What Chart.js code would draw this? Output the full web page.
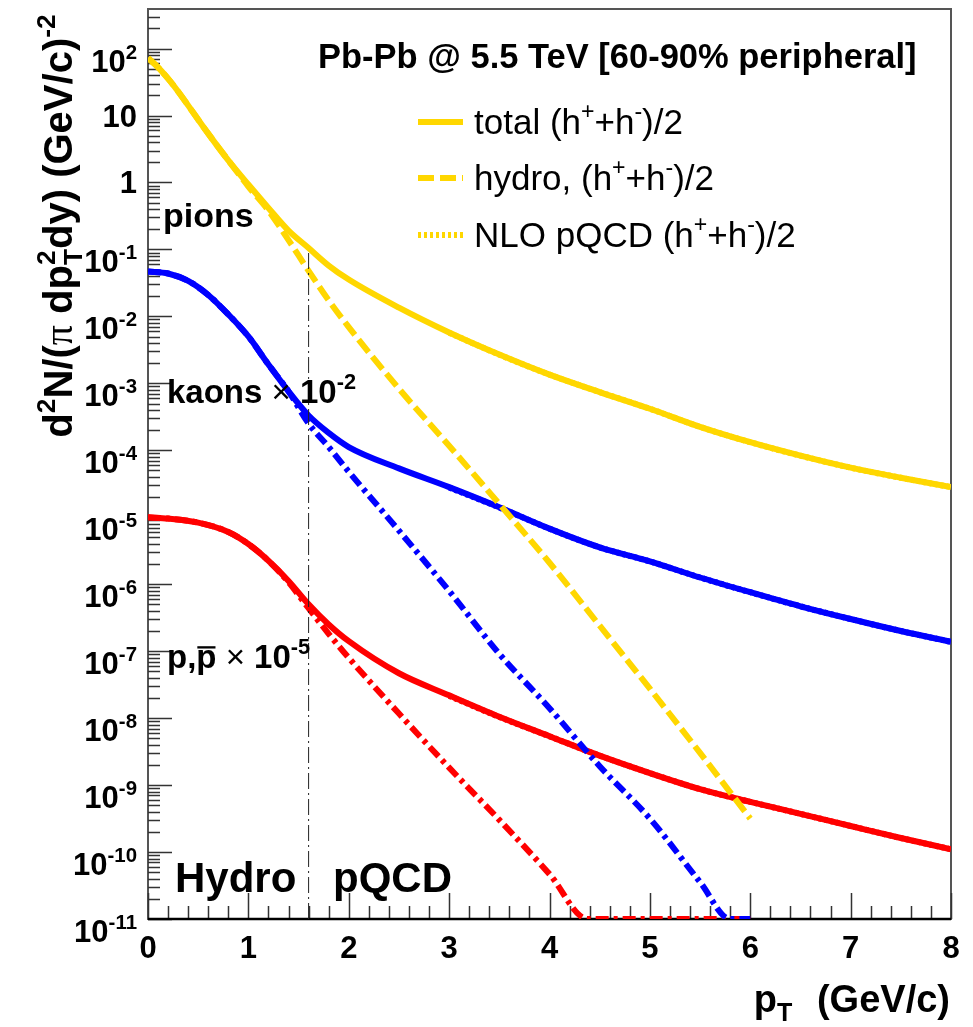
<!DOCTYPE html>
<html>
<head>
<meta charset="utf-8">
<script src="https://cdn.jsdelivr.net/npm/chart.js@4.4.1/dist/chart.umd.min.js"></script>
<style>
  html, body { margin: 0; padding: 0; background: #fff; }
  canvas { display: block; }
</style>
</head>
<body>
<canvas id="spectra" width="973" height="1027"></canvas>
<script>
// pT grids (GeV/c) and invariant yields for each species
const ptPion = [0, 0.1, 0.2, 0.3, 0.45, 0.6, 0.8, 1.0, 1.2, 1.4, 1.6, 1.8, 2.0, 2.5, 3.0, 3.5, 4.0, 4.5, 5.0, 5.5, 6.0, 6.5, 7.0, 7.5, 8.0];
const pionTotal = [72.4, 52.5, 35.5, 22.9, 11.1, 5.37, 2.14, 0.933, 0.417, 0.191, 0.105, 0.0575, 0.0355, 0.0135, 5.75e-3, 2.69e-3, 1.35e-3, 7.41e-4, 4.17e-4, 2.24e-4, 1.32e-4, 8.32e-5, 5.5e-5, 3.89e-5, 2.82e-5];
const ptPionHydro = [0, 0.1, 0.2, 0.3, 0.45, 0.6, 0.8, 1.0, 1.2, 1.4, 1.6, 1.8, 2.0, 2.5, 3.0, 3.5, 4.0, 4.5, 5.0, 5.5, 6.0];
const pionHydro = [72.4, 52.5, 35.5, 22.9, 11.1, 5.37, 2.14, 0.871, 0.380, 0.138, 0.0479, 0.0174, 6.92e-3, 8.32e-4, 1.17e-4, 1.58e-5, 2.09e-6, 2.4e-7, 2.75e-8, 3.02e-9, 3.16e-10];
const ptPionPqcd = [3.0, 3.5, 4.0, 4.5, 5.0, 5.5, 6.0, 6.5, 7.0, 7.5, 8.0];
const pionPqcd = [5.7e-3, 2.68e-3, 1.35e-3, 7.41e-4, 4.17e-4, 2.24e-4, 1.32e-4, 8.32e-5, 5.5e-5, 3.89e-5, 2.82e-5];

const ptKaon = [0, 0.2, 0.4, 0.6, 0.8, 1.0, 1.2, 1.4, 1.6, 1.8, 2.0, 2.5, 3.0, 3.5, 4.0, 4.5, 5.0, 5.5, 6.0, 6.5, 7.0, 7.5, 8.0];
const kaonTotal = [0.0468, 0.0437, 0.0339, 0.0209, 0.0107, 5.01e-3, 1.91e-3, 7.59e-4, 3.31e-4, 1.82e-4, 1.12e-4, 5.37e-5, 2.82e-5, 1.41e-5, 6.76e-6, 3.55e-6, 2.19e-6, 1.26e-6, 7.59e-7, 4.68e-7, 3.02e-7, 2.0e-7, 1.38e-7];
const ptKaonHydro = [0, 0.2, 0.4, 0.6, 0.8, 1.0, 1.2, 1.4, 1.6, 1.8, 2.0, 2.5, 3.0, 3.5, 4.0, 4.5, 5.0, 5.5, 5.8, 6.0];
const kaonHydro = [0.0468, 0.0437, 0.0339, 0.0209, 0.0107, 5.01e-3, 1.91e-3, 7.59e-4, 2.51e-4, 1.12e-4, 4.79e-5, 6.31e-6, 7.94e-7, 9.12e-8, 1.41e-8, 1.91e-9, 3.16e-10, 3.55e-11, 1e-11, 1e-11];
const ptKaonPqcd = [3.0, 3.5, 4.0, 4.5, 5.0, 5.5, 6.0, 6.5, 7.0, 7.5, 8.0];
const kaonPqcd = [2.78e-5, 1.40e-5, 6.75e-6, 3.55e-6, 2.19e-6, 1.26e-6, 7.59e-7, 4.68e-7, 3.02e-7, 2.0e-7, 1.38e-7];

const ptProton = [0, 0.2, 0.5, 0.8, 1.0, 1.2, 1.4, 1.6, 1.8, 2.0, 2.5, 3.0, 3.5, 4.0, 4.5, 5.0, 5.5, 6.0, 6.5, 7.0, 7.5, 8.0];
const protonTotal = [1.0e-5, 9.55e-6, 8.32e-6, 6.03e-6, 3.98e-6, 2.24e-6, 1.12e-6, 5.01e-7, 2.51e-7, 1.41e-7, 4.68e-8, 2.19e-8, 1.05e-8, 5.37e-9, 2.75e-9, 1.51e-9, 8.71e-10, 5.62e-10, 3.72e-10, 2.45e-10, 1.62e-10, 1.1e-10];
const ptProtonHydro = [0, 0.2, 0.5, 0.8, 1.0, 1.2, 1.4, 1.6, 1.8, 2.0, 2.5, 3.0, 3.5, 4.0, 4.38, 4.5, 5.0, 5.5, 6.0];
const protonHydro = [1.0e-5, 9.55e-6, 8.32e-6, 6.03e-6, 3.98e-6, 2.24e-6, 1.07e-6, 4.37e-7, 1.82e-7, 7.94e-8, 1.17e-8, 1.82e-9, 3.02e-10, 4.68e-11, 1e-11, 1e-11, 1e-11, 1e-11, 1e-11];
const ptProtonPqcd = [3.0, 3.5, 4.0, 4.5, 5.0, 5.5, 6.0, 6.5, 7.0, 7.5, 8.0];
const protonPqcd = [2.15e-8, 1.04e-8, 5.35e-9, 2.75e-9, 1.51e-9, 8.71e-10, 5.62e-10, 3.72e-10, 2.45e-10, 1.62e-10, 1.1e-10];

// hydro / pQCD boundary
const boundaryPt = 1.6;
const boundaryRange = [1e-11, 0.09];

const xRange = [0, 8];
const yRange = [1e-11, 390];
const xTickLabels = ['0', '1', '2', '3', '4', '5', '6', '7', '8'];
const yTickExponents = [2, 1, 0, -1, -2, -3, -4, -5, -6, -7, -8, -9, -10, -11];

const YELLOW = '#ffd700';
const BLUE = '#0000ff';
const RED = '#ff0000';
const DASH = [16, 6];
const DASHDOT = [13, 5, 4, 5];
const DOT = [3, 3];

const SANS = '"Liberation Sans", Arial, Helvetica, sans-serif';

function pts(xs, ys) {
    return xs.map((x, i) => ({ x: x, y: ys[i] }));
}

function curve(label, xs, ys, color, dash) {
    return {
        label: label,
        data: pts(xs, ys),
        borderColor: color,
        borderWidth: 6,
        borderDash: dash,
        pointRadius: 0,
        cubicInterpolationMode: 'monotone',
        fill: false,
        clip: 0
    };
}

// text with superscripts / subscripts, y is the baseline
function drawRich(ctx, parts, x, y, o) {
    const size = o.size;
    const small = size * (o.supScale || 0.66);
    const fontOf = (p, s) => (p.w || o.weight || 'bold') + ' ' + s + 'px ' + (p.fam || SANS);
    let w = 0;
    const runs = parts.map(part => {
        const p = typeof part === 'string' ? { t: part } : part;
        const s = (p.sup || p.sub) ? small : size;
        ctx.font = fontOf(p, s);
        let adv = ctx.measureText(p.t).width;
        if (p.over) {
            ctx.font = fontOf(p, small);
            adv = Math.max(adv, ctx.measureText(p.over).width);
        }
        const r = { p: p, s: s, x: w };
        w += adv + (p.pad || 0);
        return r;
    });
    ctx.save();
    ctx.translate(x, y);
    if (o.rot) ctx.rotate(o.rot);
    ctx.scale(o.sx || 1, o.sy || 1);
    const x0 = o.align === 'right' ? -w : (o.align === 'center' ? -w / 2 : 0);
    ctx.fillStyle = o.color || '#000';
    ctx.textAlign = 'left';
    ctx.textBaseline = 'alphabetic';
    runs.forEach(r => {
        const p = r.p;
        let dy = 0;
        if (p.sup) dy = -size * 0.42;
        if (p.sub) dy = size * 0.24;
        ctx.font = fontOf(p, r.s);
        ctx.fillText(p.t, x0 + r.x, dy);
        if (p.over) {
            ctx.font = fontOf(p, small);
            ctx.fillText(p.over, x0 + r.x, -size * 0.42);
        }
        if (p.bar) {
            const bw = ctx.measureText(p.t).width;
            ctx.fillRect(x0 + r.x + 1, -size * 0.66, bw - 2, Math.max(2, size * 0.07));
        }
    });
    ctx.restore();
    return w;
}

const frame = {
    id: 'frame',
    beforeDatasetsDraw(chart) {
        const { ctx, chartArea: a } = chart;
        const xs = chart.scales.x, ys = chart.scales.y;
        ctx.save();
        ctx.strokeStyle = '#555';
        ctx.lineWidth = 2;
        ctx.strokeRect(a.left, a.top, a.right - a.left, a.bottom - a.top);

        ctx.strokeStyle = '#333';
        ctx.lineWidth = 1.5;
        ctx.beginPath();
        // x ticks every 0.2, long ones on integers
        for (let i = 0; i <= 40; i++) {
            const px = Math.round(xs.getPixelForValue(i * 0.2)) + 0.5;
            const len = i % 5 === 0 ? 26 : 13;
            ctx.moveTo(px, a.bottom);
            ctx.lineTo(px, a.bottom - len);
        }
        // y ticks, decades long, 2..9 short
        for (let e = -11; e <= 2; e++) {
            for (let m = 1; m <= 9; m++) {
                const v = m * Math.pow(10, e);
                if (v < yRange[0] || v > yRange[1]) continue;
                const py = Math.round(ys.getPixelForValue(v)) + 0.5;
                ctx.moveTo(a.left, py);
                ctx.lineTo(a.left + (m === 1 ? 24 : 12), py);
            }
        }
        ctx.stroke();

        ctx.strokeStyle = '#000';
        ctx.lineWidth = 2.5;
        ctx.beginPath();
        ctx.moveTo(a.left, a.bottom);
        ctx.lineTo(a.right, a.bottom);
        ctx.stroke();
        ctx.restore();
    },
    afterDraw(chart) {
        const { ctx } = chart;
        const xs = chart.scales.x, ys = chart.scales.y;
        ctx.save();

        // tick labels
        const tsz = 31;
        xTickLabels.forEach(t => {
            drawRich(ctx, [t], xs.getPixelForValue(+t), 958, { size: tsz, align: 'center' });
        });
        yTickExponents.forEach(e => {
            const py = ys.getPixelForValue(Math.pow(10, e));
            if (e === 1 || e === 0) {
                drawRich(ctx, [e === 1 ? '10' : '1'], 137, py + 11, { size: tsz, align: 'right' });
            } else {
                drawRich(ctx, ['10', { t: String(e), sup: true }], 137, py + 23, { size: tsz, align: 'right' });
            }
        });

        // axis titles
        drawRich(ctx, ['p', { t: 'T', sub: true, pad: 14 }, ' (GeV/c)'], 950, 1012, { size: 38, align: 'right' });
        drawRich(ctx, ['d', { t: '2', sup: true }, 'N/(', { t: '\u03c0', w: 'normal', fam: '"Liberation Serif", serif' }, ' dp',
            { t: 'T', sub: true, over: '2' }, 'dy) (GeV/c)', { t: '-2', sup: true }],
            72, 226, { size: 40, align: 'center', rot: -Math.PI / 2 });

        // header and legend
        drawRich(ctx, ['Pb-Pb @ 5.5 TeV [60-90% peripheral]'], 318, 68, { size: 34.5 });
        const entries = [
            { ds: 0, y: 122, parts: ['total (h', { t: '+', sup: true }, '+h', { t: '-', sup: true }, ')/2'] },
            { ds: 1, y: 178, parts: ['hydro, (h', { t: '+', sup: true }, '+h', { t: '-', sup: true }, ')/2'] },
            { ds: 2, y: 235, parts: ['NLO pQCD (h', { t: '+', sup: true }, '+h', { t: '-', sup: true }, ')/2'] }
        ];
        entries.forEach(en => {
            const ds = chart.data.datasets[en.ds];
            ctx.save();
            ctx.strokeStyle = ds.borderColor;
            ctx.lineWidth = 6;
            ctx.setLineDash(ds.borderDash || []);
            ctx.beginPath();
            ctx.moveTo(418, en.y);
            ctx.lineTo(463, en.y);
            ctx.stroke();
            ctx.restore();
            drawRich(ctx, en.parts, 474, en.y + 12, { size: 35, weight: 'normal' });
        });

        // species labels
        drawRich(ctx, ['pions'], 163, 227, { size: 34 });
        drawRich(ctx, ['kaons ', { t: '\u00d7', w: 'normal' }, ' 10', { t: '-2', sup: true }], 167, 403, { size: 33 });
        drawRich(ctx, ['p,', { t: 'p', bar: true }, ' ', { t: '\u00d7', w: 'normal' }, ' 10', { t: '-5', sup: true }], 167, 668, { size: 33 });
        drawRich(ctx, ['Hydro'], 175, 892, { size: 42 });
        drawRich(ctx, ['pQCD'], 333, 892, { size: 42 });
        ctx.restore();
    }
};

const curves = [
    curve('total (h+ + h-)/2', ptPion, pionTotal, YELLOW, []),
    curve('hydro, (h+ + h-)/2', ptPionHydro, pionHydro, YELLOW, DASH),
    curve('NLO pQCD (h+ + h-)/2', ptPionPqcd, pionPqcd, YELLOW, DOT),
    curve('kaons total', ptKaon, kaonTotal, BLUE, []),
    curve('kaons hydro', ptKaonHydro, kaonHydro, BLUE, DASHDOT),
    curve('kaons pQCD', ptKaonPqcd, kaonPqcd, BLUE, DOT),
    curve('protons total', ptProton, protonTotal, RED, []),
    curve('protons hydro', ptProtonHydro, protonHydro, RED, DASHDOT),
    curve('protons pQCD', ptProtonPqcd, protonPqcd, RED, DOT)
];
const boundary = {
    label: 'boundary',
    data: [{ x: boundaryPt, y: boundaryRange[0] }, { x: boundaryPt, y: boundaryRange[1] }],
    borderColor: '#222',
    borderWidth: 1,
    borderDash: [16, 4, 2, 4],
    pointRadius: 0,
    clip: 0
};
// lower order is painted on top; the boundary line sits above everything
boundary.order = 0;
curves.forEach((d, i) => { d.order = i + 1; });

const chart = new Chart(document.getElementById('spectra'), {
    type: 'line',
    data: { datasets: curves.concat([boundary]) },
    options: {
        responsive: false,
        animation: false,
        devicePixelRatio: 1,
        layout: { padding: { left: 148, top: 9, right: 22, bottom: 108 } },
        scales: {
            x: { type: 'linear', min: xRange[0], max: xRange[1], display: false },
            y: { type: 'logarithmic', min: yRange[0], max: yRange[1], display: false }
        },
        plugins: { legend: { display: false }, tooltip: { enabled: false } }
    },
    plugins: [frame]
});
</script>
</body>
</html>
